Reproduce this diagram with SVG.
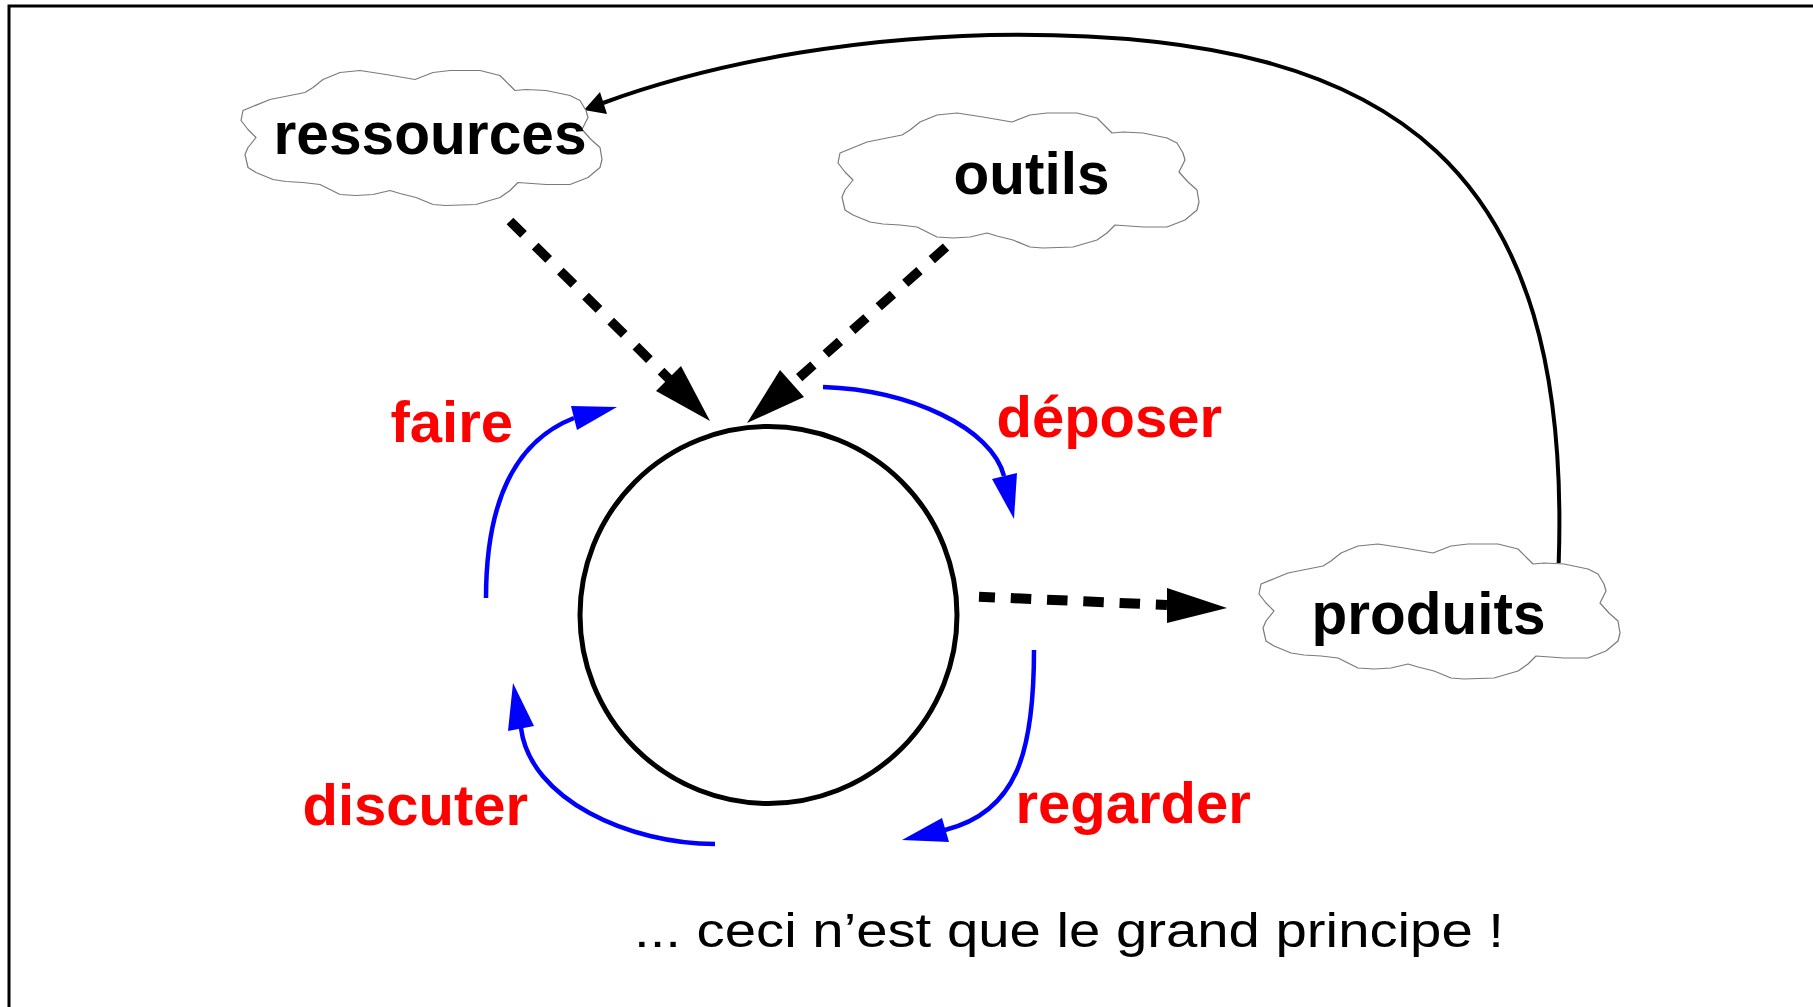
<svg xmlns="http://www.w3.org/2000/svg" width="1813" height="1007" viewBox="0 0 1813 1007">
<style>
.frame{fill:none;stroke:#000;stroke-width:3}
.cloud{fill:#fff;stroke:#7a7a7a;stroke-width:1.2;stroke-linejoin:round}
.node{font-family:"Liberation Sans",Arial,Helvetica,sans-serif;font-weight:bold;font-size:60px;fill:#000}
.lbl{font-family:"Liberation Sans",Arial,Helvetica,sans-serif;font-weight:bold;font-size:58px;fill:#ff0000}
.note{font-family:"Liberation Sans",Arial,Helvetica,sans-serif;font-size:48px;fill:#000}
.hub{fill:none;stroke:#000;stroke-width:5}
.dash{fill:none;stroke:#000;stroke-width:9.5;stroke-dasharray:19 16.5}
.blue{fill:none;stroke:#0000ff;stroke-width:4.5}
.bluehead{fill:#0000ff;stroke:none}
.blackhead{fill:#000;stroke:none}
.loop{fill:none;stroke:#000;stroke-width:4}
</style>
<defs>
<path id="cloud" d="M2,41 L29,30 L64,23 L72,18 L82,10 L99,3 L119,1 L145,5 L174,10 L192,3 L209,1 L239,1 L259,6 L269,16 L274,21 L285,20 L305,21 L329,26 L339,31 L345,41 L347,48 L341,60 L350,70 L359,78 L361,90 L359,98 L347,108 L329,115 L305,115 L277,113 L269,121 L259,128 L235,135 L205,136 L192,135 L175,128 L159,124 L149,121 L132,125 L115,126 L99,125 L89,120 L79,115 L62,113 L45,112 L32,110 L15,103 L7,98 L4,85 L7,78 L15,68 L7,60 L0,51 Z"/>
</defs>
<rect width="1813" height="1007" fill="#fff"/>
<rect class="frame" x="9" y="6" width="1900" height="1100"/>

<g id="connectors">
<path class="loop" d="M1558.7,563 C1572,170 1400,34.7 1017.5,34.7 C870,35 720,60 603,103"/>
<polygon class="blackhead" points="584,110 600,92 607,114"/>
<path class="dash" d="M510,221 L669,379"/>
<polygon class="blackhead" points="710,421 656,391 681,366"/>
<path class="dash" d="M946,247 L792,384"/>
<polygon class="blackhead" points="747,423 780,370 804,397"/>
<path class="dash" style="stroke-width:10;stroke-dasharray:20.5 15.8;stroke-dashoffset:4.5" d="M979,596.7 L1167,605"/>
<polygon class="blackhead" points="1227,608 1167,588 1167,623"/>
<path class="blue" d="M486,598 C486,520 505,445 574,418"/>
<polygon class="bluehead" points="617,407 571,406 577,430"/>
<path class="blue" d="M823,387 C910,390 992,428 1004,476"/>
<polygon class="bluehead" points="1014,519 992,479 1017,473"/>
<path class="blue" d="M1034,650 C1034,750 1018,812 945,830"/>
<polygon class="bluehead" points="902,840 942,818 949,842"/>
<path class="blue" d="M715,844 C630,844 530,800 521,728"/>
<polygon class="bluehead" points="513,683 508,731 534,726"/>
</g>

<g id="node-ressources">
<use href="#cloud" class="cloud" transform="translate(241,69.5)"/>
<text class="node" x="273.5" y="154" textLength="313" lengthAdjust="spacingAndGlyphs">ressources</text>
</g>
<g id="node-outils">
<use href="#cloud" class="cloud" transform="translate(838,112)"/>
<text class="node" x="953.6" y="194" textLength="156" lengthAdjust="spacingAndGlyphs">outils</text>
</g>
<g id="node-produits">
<use href="#cloud" class="cloud" transform="translate(1259,543)"/>
<text class="node" x="1311.5" y="634" textLength="234" lengthAdjust="spacingAndGlyphs">produits</text>
</g>
<g id="node-hub">
<circle class="hub" cx="768.5" cy="615" r="188.5"/>
</g>

<g id="labels">
<text class="lbl" x="390.5" y="441.7">faire</text>
<text class="lbl" x="996.5" y="436.7">déposer</text>
<text class="lbl" x="1015.5" y="822.7">regarder</text>
<text class="lbl" x="302.5" y="825">discuter</text>
</g>
<text class="note" x="634" y="946.5" textLength="870" lengthAdjust="spacingAndGlyphs">... ceci n’est que le grand principe !</text>
</svg>
